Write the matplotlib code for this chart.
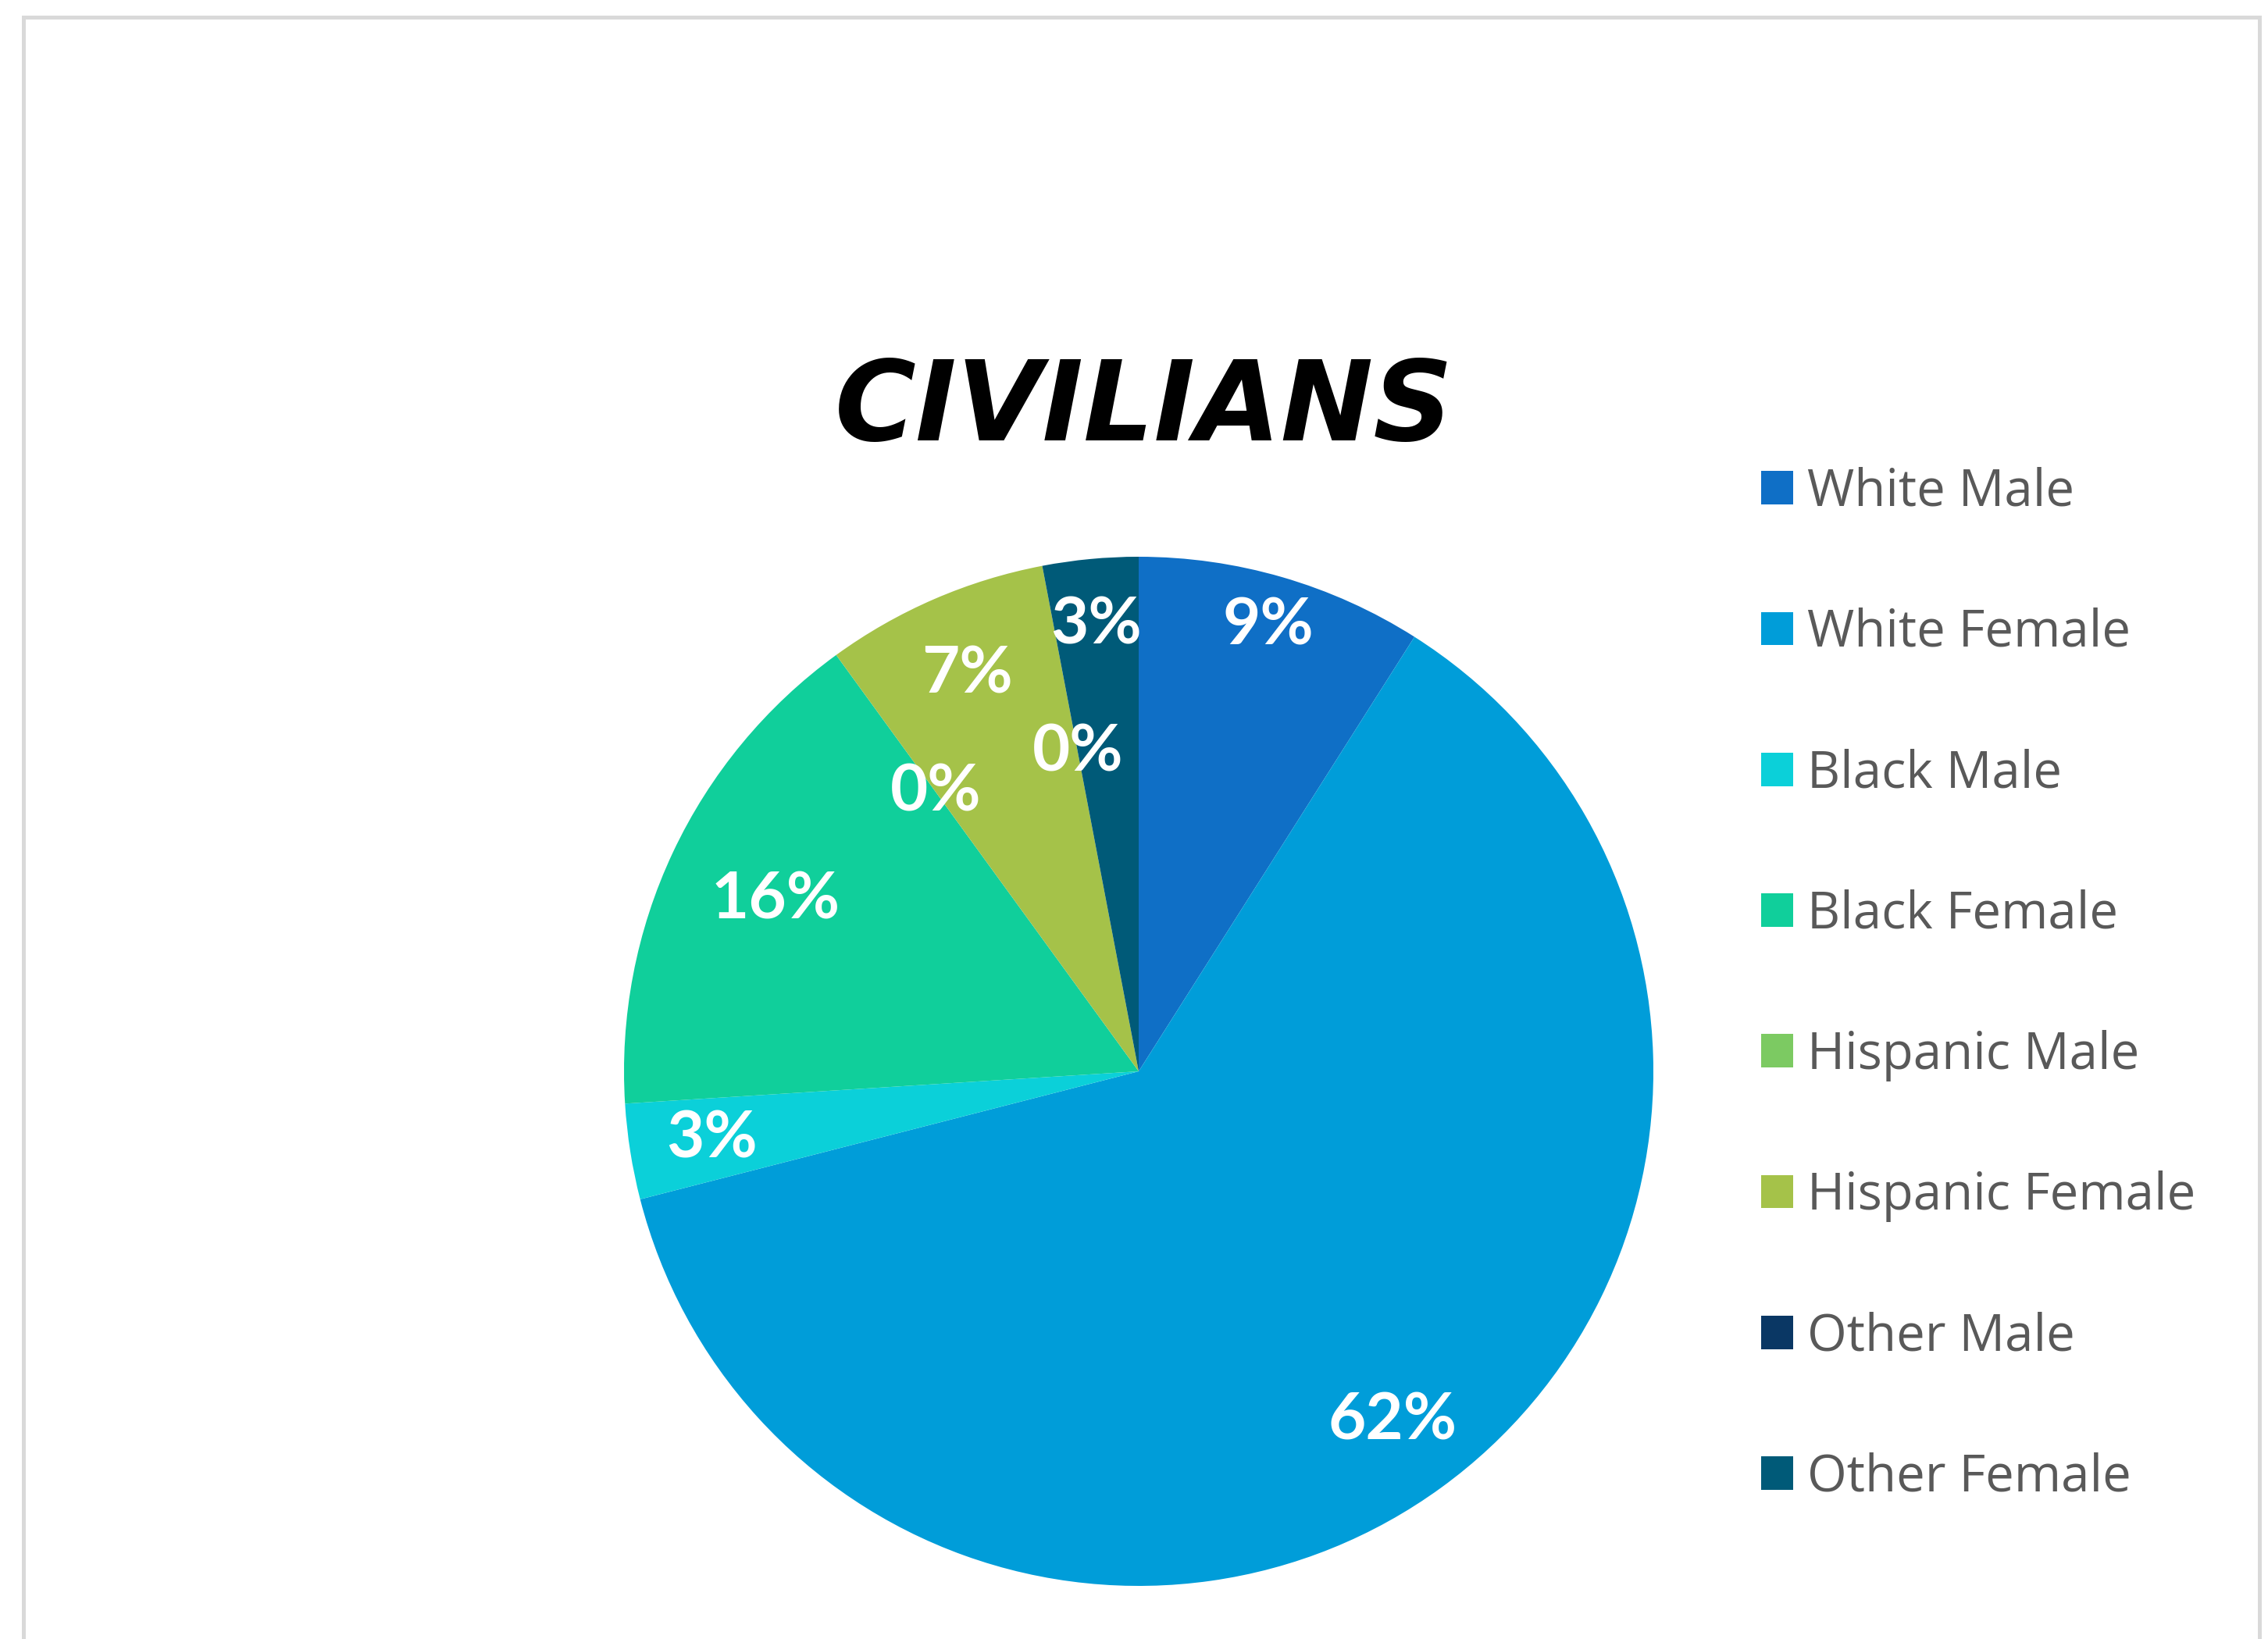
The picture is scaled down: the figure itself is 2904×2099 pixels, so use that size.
import matplotlib
matplotlib.use("Agg")
import matplotlib.pyplot as plt
from matplotlib.lines import Line2D
import numpy as np

# ---- data ----
categories = ["White Male", "White Female", "Black Male", "Black Female",
              "Hispanic Male", "Hispanic Female", "Other Male", "Other Female"]
values = [9, 62, 3, 16, 0, 7, 0, 3]
pct_labels = ["9%", "62%", "3%", "16%", "0%", "7%", "0%", "3%"]
colors = ["#0F6FC6", "#009DD9", "#0BD0D9", "#10CF9B",
          "#7CCA62", "#A5C249", "#0A3764", "#005A78"]
label_dist = [0.90, 0.84, 0.84, 0.78, 0.67, 0.84, 0.63, 0.87]
title = "CIVILIANS"

W, H = 2904, 2099
DPI = 100
fig = plt.figure(figsize=(W / DPI, H / DPI), dpi=DPI)
fig.patch.set_facecolor("white")

# frame lines
frame_col = "#D9D9D9"
fig.add_artist(Line2D([30 / W, 30 / W], [0, 1 - 22 / H], color=frame_col, lw=3.6,
                      transform=fig.transFigure))
fig.add_artist(Line2D([2893 / W, 2893 / W], [0, 1 - 22 / H], color=frame_col, lw=3.6,
                      transform=fig.transFigure))
fig.add_artist(Line2D([30 / W, 2893 / W], [1 - 22 / H, 1 - 22 / H], color=frame_col, lw=3.6,
                      transform=fig.transFigure))

# pie
cx, cy, r = 1458, 1372, 659
ax = fig.add_axes([(cx - r) / W, (H - cy - r) / H, 2 * r / W, 2 * r / H])
wedges, _ = ax.pie(values, colors=colors, startangle=90, counterclock=False,
                   radius=1.0, wedgeprops=dict(linewidth=0))
ax.set_xlim(-1, 1)
ax.set_ylim(-1, 1)
ax.set_aspect("equal")
ax.axis("off")

for w, lab, d in zip(wedges, pct_labels, label_dist):
    ang = np.deg2rad((w.theta1 + w.theta2) / 2)
    ax.text(d * np.cos(ang), d * np.sin(ang), lab, ha="center", va="center",
            color="white", fontsize=60, fontweight="bold",
            family=["Lato", "DejaVu Sans"])

# title
fig.text(1465 / W, 1 - 525 / H, title, ha="center", va="center",
         fontsize=102, fontstyle="italic", fontweight="bold",
         family=["DejaVu Sans"], color="black")

# legend
leg = fig.legend(wedges, categories, loc="upper left",
                 bbox_to_anchor=(2196 / W, 1 - 539 / H),
                 frameon=False, handlelength=0.63, handleheight=0.63,
                 handletextpad=0.28, labelspacing=1.75,
                 prop=dict(family=["Open Sans", "DejaVu Sans"], size=47))
for t in leg.get_texts():
    t.set_color("#595959")

fig.savefig("out.png", dpi=DPI, facecolor="white")
